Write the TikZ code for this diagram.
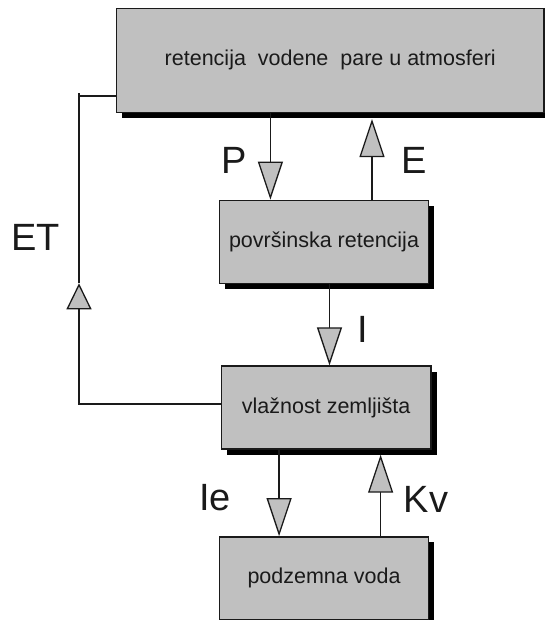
\documentclass[tikz,border=0pt]{standalone}
\usepackage{fontspec}
\setmainfont{Liberation Sans}
\usetikzlibrary{arrows.meta,shadows}
\definecolor{boxgray}{HTML}{C0C0C0}
\definecolor{ink}{HTML}{1A1A1A}
\begin{document}
\begin{tikzpicture}[x=1pt,y=-1pt,
  box/.style={draw=ink, line width=1.4pt, fill=boxgray, rectangle, inner sep=0pt,
    general shadow={fill=black, shadow xshift=5.5pt, shadow yshift=-5.5pt},
    font=\fontsize{21.5}{25}\selectfont, text=ink},
  conn/.style={draw=ink, line width=1.3pt},
  flow/.style={conn, -{Triangle[length=38pt,width=25pt,fill=boxgray]}},
  midflow/.style={conn, -{Triangle[length=26pt,width=25pt,fill=boxgray]}},
  lbl/.style={font=\fontsize{38}{40}\selectfont, inner sep=0pt, text=ink}]
\useasboundingbox (0,0) rectangle (545,620);

\node[box, minimum width=427.5pt, minimum height=104pt] (atm) at (330.25,60.4) {retencija\ \ vodene\ \ pare u atmosferi};
\node[box, minimum width=208.5pt, minimum height=83pt] (pov) at (324,241.8) {površinska retencija};
\node[box, minimum width=209.6pt, minimum height=83pt] (vl) at (326.2,407.5) {vlažnost zemljišta};
\node[box, minimum width=208.5pt, minimum height=83pt] (pod) at (324,578.3) {podzemna voda};

\coordinate (xP) at (270.4,0);
\coordinate (xE) at (372,0);
\coordinate (xI) at (329.5,0);
\coordinate (xIe) at (279.1,0);
\coordinate (xKv) at (380.6,0);

\draw[flow] (atm.south -| xP) -- (pov.north -| xP);
\draw[flow, shorten >=6pt] (pov.north -| xE) -- (atm.south -| xE);
\draw[flow] (pov.south -| xI) -- (vl.north -| xI);
\draw[flow] (vl.south -| xIe) -- (pod.north -| xIe);
\draw[flow, shorten >=5pt] (pod.north -| xKv) -- (vl.south -| xKv);

\coordinate (etb) at (79,404);
\coordinate (ettip) at (79,283.3);
\coordinate (ett) at (79,92.7);
\coordinate (etj) at (79,96);
\draw[midflow] (vl.west |- etb) -- (etb) -- (ettip);
\draw[conn] (ettip) -- (ett);
\draw[conn] (etj) -- (atm.west |- etj);

\node[lbl] (lP) at (234,160.5) {P};
\node[lbl] (lE) at (414,160.5) {E};
\node[lbl] (lET) at (35.6,237.7) {ET};
\node[lbl] (lI) at (363,329) {I};
\node[lbl] (lIe) at (215,498) {Ie};
\node[lbl] (lKv) at (426,499) {Kv};
\end{tikzpicture}
\end{document}
